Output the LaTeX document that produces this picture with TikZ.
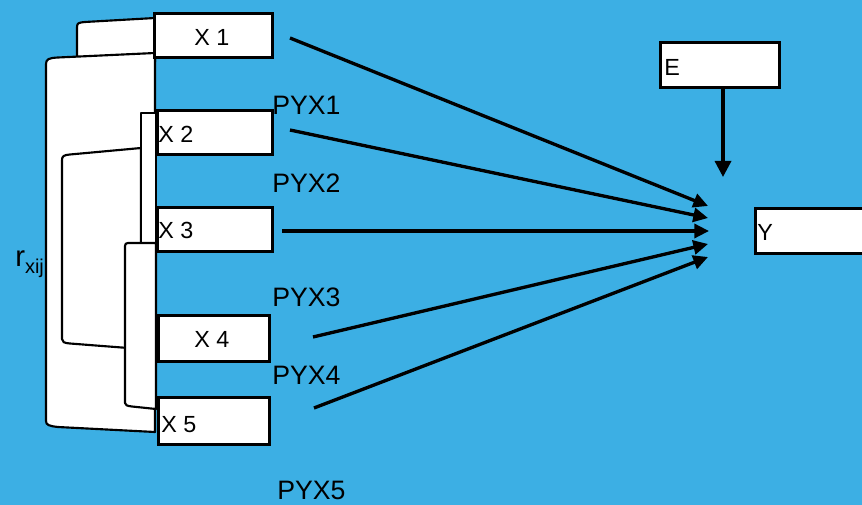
\documentclass[tikz,border=0pt]{standalone}
\usepackage{fontspec}
\setmainfont{Liberation Sans}
\usetikzlibrary{arrows.meta}
\definecolor{bgblue}{RGB}{60,175,228}
\tikzset{
  box/.style={draw=black, fill=white, line width=2pt, inner sep=0pt, anchor=north west},
  brk/.style={draw=black, fill=white, line width=1.6pt, line join=round},
  arrowline/.style={line width=2.5pt, -{Triangle[length=11pt,width=10.5pt]}},
  pathlabel/.style={anchor=base west, inner sep=0pt, font=\fontsize{20}{24}\selectfont},
  boxlabel/.style={anchor=base west, inner sep=0pt, font=\fontsize{17.5}{20}\selectfont},
}
\begin{document}
\begin{tikzpicture}[x=0.75pt,y=-0.75pt]
  \useasboundingbox (0,0) rectangle (862,505);
  \clip (0,0) rectangle (862,505);
  \fill[bgblue] (0,0) rectangle (862,505);

  % correlation label, partly covered by the outer bracket
  \node[anchor=base west, inner sep=0pt] (rlab) at (15,267)
    {\fontsize{22}{24}\selectfont r\raisebox{-0.45ex}{\fontsize{15}{16}\selectfont xij}};

  % correlation brackets between the predictors
  \filldraw[brk] (155,18) -- (85,22) .. controls (79,22.5) and (77,23) .. (77,27)
     -- (77,62) -- (155,62) -- cycle;
  \filldraw[brk] (155,53) -- (58,57.5) .. controls (49,58) and (46,59) .. (46,64)
     -- (46,421) .. controls (46,425) and (49,426) .. (58,427) -- (155,432) -- cycle;
  \filldraw[brk] (141,148) -- (70,154.5) .. controls (64,155) and (62,156) .. (62,160)
     -- (62,339) .. controls (62,342) and (64,343) .. (70,343.5) -- (141,349) -- cycle;
  \filldraw[brk] (141,113) rectangle (156,243);
  \filldraw[brk] (156,243) -- (128,243) .. controls (126,243) and (125,244) .. (125,246)
     -- (125,403) .. controls (125,405) and (127,406) .. (132,406.5) -- (156,409) -- cycle;

  % variable boxes
  \node[box, minimum width=118*0.75pt, minimum height=44*0.75pt] (X1) at (153,12) {};
  \node[box, minimum width=115*0.75pt, minimum height=44*0.75pt] (X2) at (156,109) {};
  \node[box, minimum width=115*0.75pt, minimum height=44*0.75pt] (X3) at (156,206) {};
  \node[box, minimum width=111*0.75pt, minimum height=46*0.75pt] (X4) at (157,314) {};
  \node[box, minimum width=111*0.75pt, minimum height=47*0.75pt] (X5) at (157,396) {};
  \node[box, minimum width=119*0.75pt, minimum height=45*0.75pt] (E) at (659,41) {};
  \node[box, minimum width=130*0.75pt, minimum height=45*0.75pt] (Y) at (754,207) {};

  \node[boxlabel] (lx1) at (194,46) {X 1};
  \node[boxlabel] (lx2) at (158,143) {X 2};
  \node[boxlabel] (lx3) at (158,239) {X 3};
  \node[boxlabel] (lx4) at (194,347) {X 4};
  \node[boxlabel] (lx5) at (161,432) {X 5};
  \node[boxlabel] (le) at (664,76) {E};
  \node[boxlabel] (ly) at (757,241) {Y};

  % path coefficient labels
  \node[pathlabel] (p1) at (272,115) {PYX1};
  \node[pathlabel] (p2) at (272,193) {PYX2};
  \node[pathlabel] (p3) at (272,307) {PYX3};
  \node[pathlabel] (p4) at (272,384) {PYX4};
  \node[pathlabel] (p5) at (277,499) {PYX5};

  % arrow ends
  \coordinate (s1) at (290,38);
  \coordinate (s2) at (290,130);
  \coordinate (s3) at (282,231);
  \coordinate (s4) at (313,337);
  \coordinate (s5) at (314,408);
  \coordinate (t1) at (708,206);
  \coordinate (t2) at (708,218);
  \coordinate (t3) at (709,231);
  \coordinate (t4) at (708,244);
  \coordinate (t5) at (708,257);
  \coordinate (te) at (723,177);

  \draw[arrowline] (s1) -- (t1);
  \draw[arrowline] (s2) -- (t2);
  \draw[arrowline] (s3) -- (t3);
  \draw[arrowline] (s4) -- (t4);
  \draw[arrowline] (s5) -- (t5);
  \draw[arrowline, -{Triangle[length=12pt,width=12pt]}] (E.south -| te) -- (te);
\end{tikzpicture}
\end{document}
